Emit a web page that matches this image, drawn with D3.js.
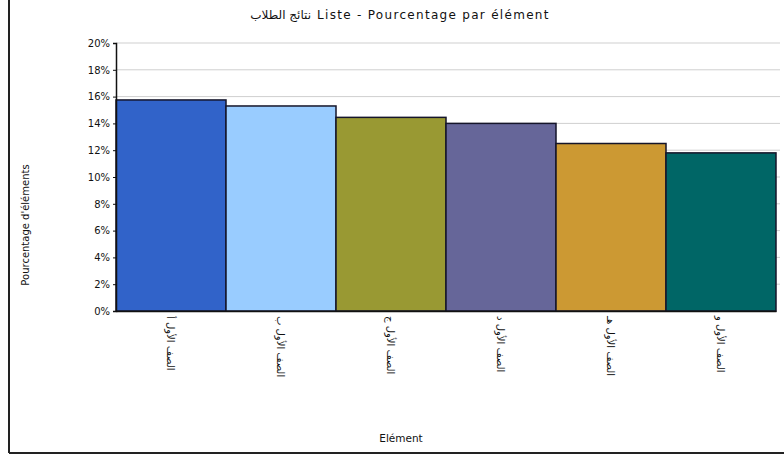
<!DOCTYPE html>
<html>
<head>
<meta charset="utf-8">
<script src="https://cdn.jsdelivr.net/npm/d3@7"></script>
<style>
  html, body { margin: 0; padding: 0; background: #fff; }
  svg { display: block; }
  text { font-family: "DejaVu Sans", "Noto Sans", sans-serif; fill: #111; }
</style>
</head>
<body>
<svg id="chart" width="784" height="457"></svg>
<script>
// Categories (groups) and their share of elements, in percent
const categories = ["الصف الأول أ", "الصف الأول ب", "الصف الأول ج", "الصف الأول د", "الصف الأول هـ", "الصف الأول و"];
const percentages = [15.75, 15.3, 14.45, 14.0, 12.5, 11.8];
const barColors = ["#3163c9", "#99ccff", "#999933", "#666699", "#cc9933", "#006666"];
const yTicks = [0, 2, 4, 6, 8, 10, 12, 14, 16, 18, 20];

const titleArabic = "نتائج الطلاب";
const titleLatin = "Liste - Pourcentage par élément";
const xTitle = "Elément";
const yTitle = "Pourcentage d'éléments";

const svg = d3.select("#chart");
const W = 784, H = 457;
const plot = { left: 116, right: 776, top: 43, bottom: 311 };

// Outer frame: left and bottom edges
svg.append("line").attr("x1", 9).attr("x2", 9).attr("y1", 0).attr("y2", 453)
  .attr("stroke", "#222").attr("stroke-width", 2);
svg.append("line").attr("x1", 9).attr("x2", W).attr("y1", 453).attr("y2", 453)
  .attr("stroke", "#222").attr("stroke-width", 2);

const x = d3.scaleBand().domain(categories).range([plot.left, plot.right]).padding(0);
const y = d3.scaleLinear().domain([0, 20]).range([plot.bottom, plot.top]);

// Horizontal gridlines
svg.append("g").selectAll("line").data(yTicks.filter(t => t > 0)).join("line")
  .attr("x1", plot.left).attr("x2", 780)
  .attr("y1", d => y(d)).attr("y2", d => y(d))
  .attr("stroke", "#cfcfcf").attr("stroke-width", 1);

// Bars
svg.append("g").selectAll("rect").data(categories).join("rect")
  .attr("x", d => x(d))
  .attr("y", (d, i) => y(percentages[i]))
  .attr("width", x.bandwidth())
  .attr("height", (d, i) => y(0) - y(percentages[i]))
  .attr("fill", (d, i) => barColors[i])
  .attr("stroke", "#15152a").attr("stroke-width", 1.5);

// Y axis
const yAxis = d3.axisLeft(y).tickValues(yTicks).tickFormat(d => d + "%").tickSize(3).tickPadding(3);
const gy = svg.append("g").attr("transform", `translate(${plot.left},0)`).call(yAxis);
gy.select(".domain").attr("stroke", "#111").attr("stroke-width", 1.5);
gy.selectAll(".tick line").attr("stroke", "#111");
gy.selectAll(".tick text").attr("font-size", 10).attr("fill", "#222");

// X axis
const xAxis = d3.axisBottom(x).tickSize(0).tickFormat("");
const gx = svg.append("g").attr("transform", `translate(0,${plot.bottom})`).call(xAxis);
gx.select(".domain").attr("stroke", "#111").attr("stroke-width", 1.5);

// Rotated category labels
svg.append("g").selectAll("text").data(categories).join("text")
  .attr("transform", d => `translate(${x(d) + x.bandwidth() / 2 - 4},${plot.bottom + 5}) rotate(90)`)
  .attr("text-anchor", "start")
  .attr("font-size", 10)
  .attr("fill", "#111")
  .text(d => d);

// Chart title: Arabic part and spaced-out French part as two runs, centred together
const titleG = svg.append("g");
const tAr = titleG.append("text").attr("y", 19).attr("font-size", 12).text(titleArabic);
const tLa = titleG.append("text").attr("y", 19).attr("font-size", 12)
  .attr("letter-spacing", 1.3).text(titleLatin);
const gap = 6;
const wAr = tAr.node().getComputedTextLength();
const wLa = tLa.node().getComputedTextLength();
const startX = 400 - (wAr + gap + wLa) / 2;
tAr.attr("x", startX);
tLa.attr("x", startX + wAr + gap);

// Axis titles
svg.append("text").attr("x", 401).attr("y", 442).attr("text-anchor", "middle")
  .attr("font-size", 10.5).text(xTitle);
svg.append("text").attr("transform", "translate(29,225) rotate(-90)")
  .attr("text-anchor", "middle").attr("font-size", 10).text(yTitle);
</script>
</body>
</html>
